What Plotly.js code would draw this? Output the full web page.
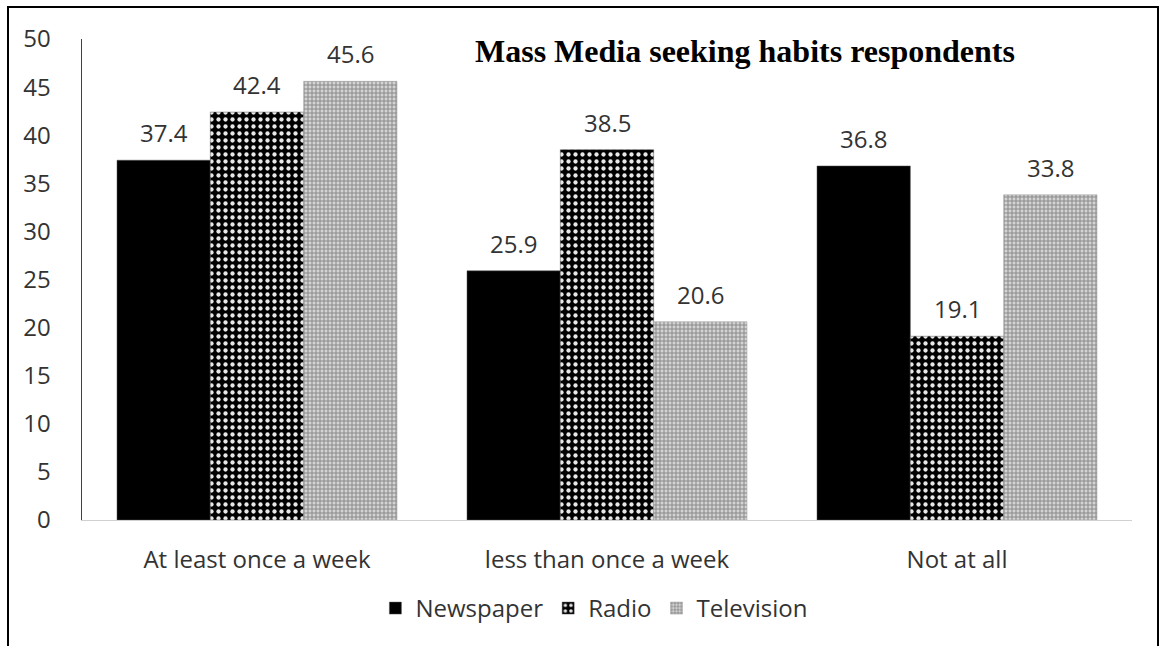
<!DOCTYPE html>
<html>
<head>
<meta charset="utf-8">
<script src="https://cdn.plot.ly/plotly-3.0.1.min.js"></script>
<style>
  html, body { margin: 0; padding: 0; background: #fff; }
  #wrap { position: relative; width: 1162px; height: 646px; overflow: hidden; }
  #chart { width: 1162px; height: 646px; }
  #frame { position: absolute; left: 7px; top: 6px; width: 1152px; height: 700px;
           border: 2px solid #000; pointer-events: none; box-sizing: border-box; }
</style>
</head>
<body>
<div id="wrap">
  <div id="chart"></div>
  <div id="frame"></div>
</div>
<script>
const categories = ["At least once a week", "less than once a week", "Not at all"];
const newspaper  = [37.4, 25.9, 36.8];
const radio      = [42.4, 38.5, 19.1];
const television = [45.6, 20.6, 33.8];
const seriesNames = ["Newspaper", "Radio", "Television"];
const yTicks = [0, 5, 10, 15, 20, 25, 30, 35, 40, 45, 50];
const chartTitle = "Mass Media seeking habits respondents";

const font = "Open Sans, Noto Sans, sans-serif";
const txt = "#333333";
const bargap = 0.2;
const allSeries = [newspaper, radio, television];

const styles = [
  { color: "#000000", line: { color: "#555", width: 0.5 } },
  { color: "#000000", pattern: { shape: ".", fgcolor: "#e8e8e8", bgcolor: "#000000", size: 7, solidity: 0.3, fillmode: "replace" }, line: { color: "#555", width: 0.5 } },
  { color: "#ffffff", pattern: { shape: "+", fgcolor: "#8a8a8a", bgcolor: "#d4d4d4", size: 4, solidity: 0.45, fillmode: "replace" }, line: { color: "#999", width: 0.5 } }
];

const traces = allSeries.map((vals, i) => ({
  type: "bar",
  name: seriesNames[i],
  x: categories,
  y: vals,
  marker: styles[i],
  hoverinfo: "x+y+name"
}));

// value labels as annotations above each bar
const n = allSeries.length;
const bw = (1 - bargap) / n;
const annotations = [];
allSeries.forEach((vals, i) => {
  const off = (i - (n - 1) / 2) * bw;
  vals.forEach((v, j) => {
    annotations.push({
      xref: "x", yref: "y", x: j + off, y: v,
      text: v.toFixed(1), showarrow: false,
      yanchor: "bottom", yshift: 9,
      font: { family: font, size: 24, color: txt }
    });
  });
});
annotations.push({
  xref: "paper", yref: "paper", x: 0.631, y: 0.975,
  xanchor: "center", yanchor: "middle",
  text: "<b>" + chartTitle + "</b>", showarrow: false,
  font: { family: "Liberation Serif, Times New Roman, serif", size: 32, color: "#000" }
});

const layout = {
  width: 1162, height: 646,
  margin: { l: 82, r: 30, t: 39, b: 126 },
  paper_bgcolor: "#fff", plot_bgcolor: "#fff",
  barmode: "group", bargap: bargap, bargroupgap: 0,
  showlegend: true,
  legend: {
    orientation: "h", x: 0.488, xanchor: "center", y: -0.184, yanchor: "middle",
    font: { family: font, size: 24, color: txt },
    itemwidth: 30, tracegroupgap: 0
  },
  xaxis: {
    type: "category",
    showline: true, linecolor: "#d0d0d0", linewidth: 1,
    showgrid: false, ticks: "", zeroline: false,
    tickfont: { family: font, size: 24, color: txt },
    ticklabelstandoff: 18
  },
  yaxis: {
    range: [0, 50], tickvals: yTicks,
    showline: true, linecolor: "#404040", linewidth: 1.5,
    showgrid: false, zeroline: false, ticks: "",
    tickfont: { family: font, size: 24, color: txt },
    ticklabelstandoff: 25
  },
  annotations: annotations
};

Plotly.newPlot("chart", traces, layout, { displayModeBar: false, staticPlot: true });
</script>
</body>
</html>
